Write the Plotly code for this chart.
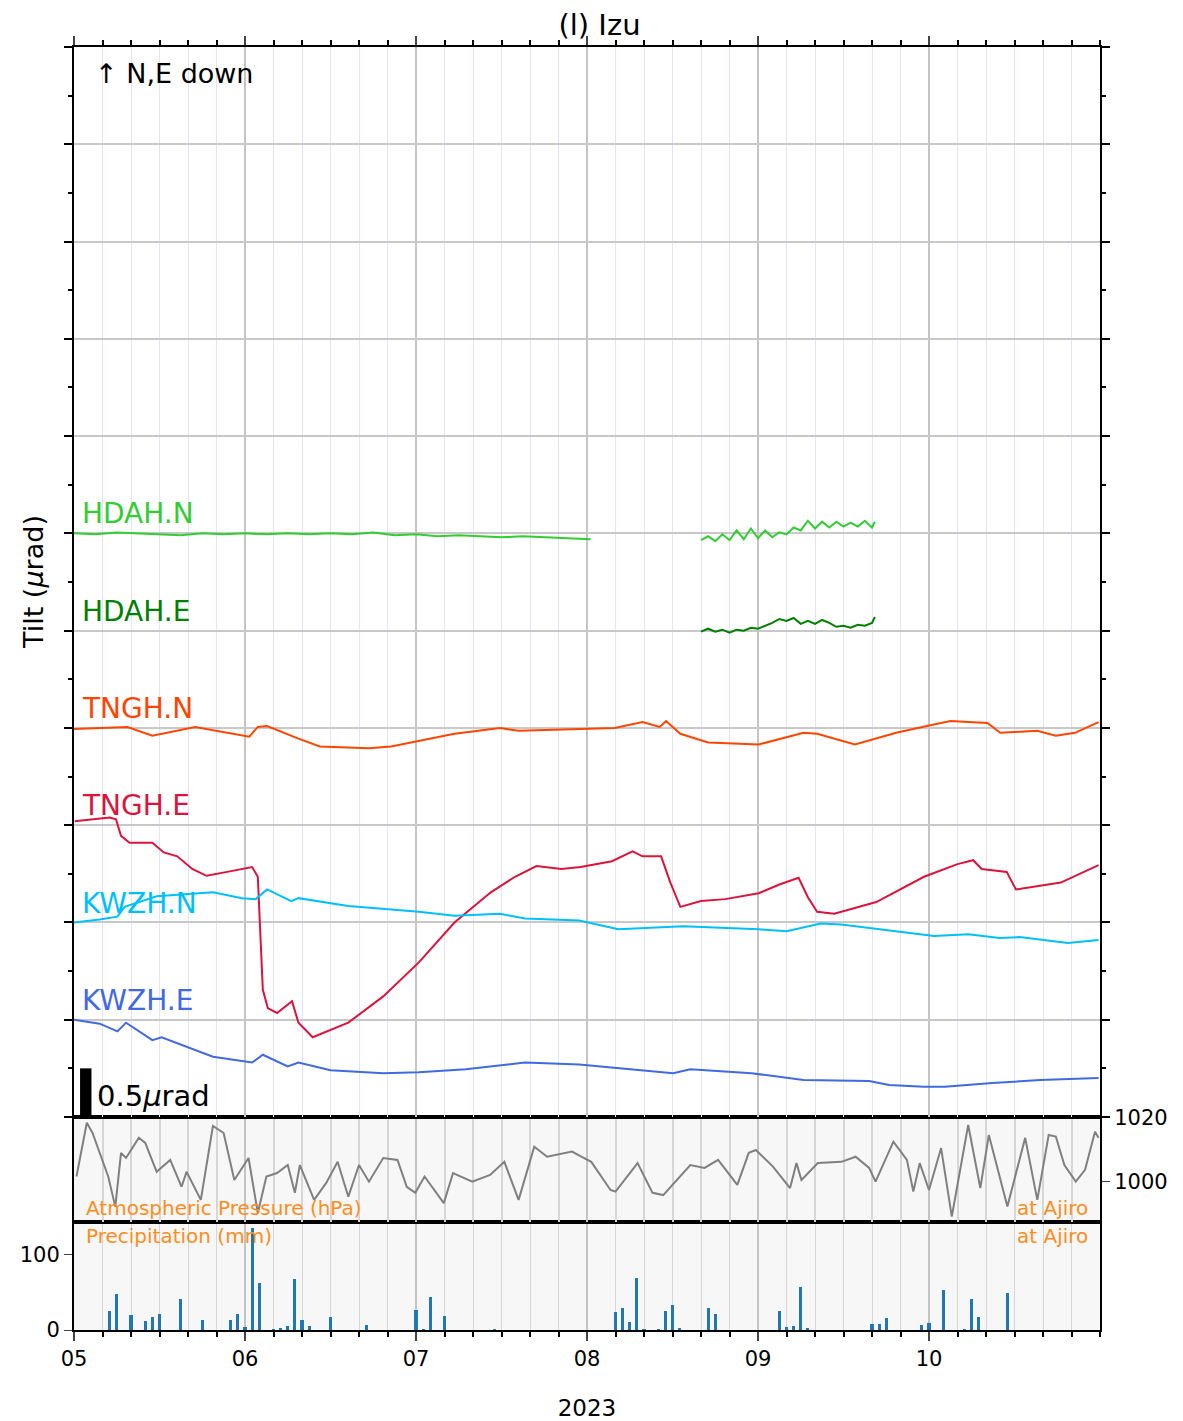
import pandas as pd
import plotly.graph_objects as go

T0 = pd.Timestamp("2023-05-05 00:00")

# tilt traces: hours since 05 00:00 and offset value (µrad, with station baseline)
hdah_n_h = [0, 3, 6, 9, 12, 15, 18, 21, 24, 27, 30, 33, 36, 39, 42, 45, 48, 51, 54, 57, 60, 63, 66, 69, 72, 72.5,
            None,
            88, 89, 90, 91, 92, 93, 94, 95, 96, 97, 98, 99, 100, 101, 102, 103, 104, 105, 106, 107, 108, 109,
            110, 111, 112, 112.4]
hdah_n_v = [6.00, 5.99, 6.01, 6.00, 5.99, 5.98, 6.00, 5.99, 6.00, 5.99, 6.00, 5.99, 6.00, 5.99, 6.01, 5.98,
            5.99, 5.97, 5.98, 5.97, 5.96, 5.97, 5.96, 5.95, 5.94, 5.94,
            None,
            5.93, 5.97, 5.92, 5.99, 5.93, 6.03, 5.94, 6.05, 5.95, 6.03, 5.96, 6.01, 5.99, 6.06, 6.03, 6.13,
            6.05, 6.12, 6.06, 6.12, 6.07, 6.11, 6.07, 6.13, 6.06, 6.12]

hdah_e_h = [88, 89, 90, 91, 92, 93, 94, 95, 96, 97, 98, 99, 100, 101, 102, 103, 104, 105, 106, 107, 108, 109,
            110, 111, 112, 112.4]
hdah_e_v = [4.99, 5.02, 4.99, 5.01, 4.98, 5.01, 5.00, 5.03, 5.02, 5.05, 5.08, 5.12, 5.10, 5.13, 5.07, 5.10,
            5.07, 5.11, 5.08, 5.04, 5.05, 5.03, 5.06, 5.05, 5.08, 5.14]

tngh_n_h = [0, 7.5, 11.0, 17.0, 24.6, 25.8, 27.1, 31.5, 34.5, 41.4, 44.5, 53.4, 59.8, 62.4, 71.1, 75.9, 79.8,
            82.2, 83.1, 85.1, 89.0, 96.1, 102.4, 104.3, 109.6, 115.4, 119.7, 123.0, 128.2, 130.0, 135.2,
            137.8, 140.5, 143.8]
tngh_n_v = [3.99, 4.01, 3.92, 4.01, 3.91, 4.01, 4.02, 3.89, 3.81, 3.79, 3.81, 3.94, 4.00, 3.97, 3.99, 4.00,
            4.06, 4.01, 4.07, 3.94, 3.85, 3.83, 3.95, 3.94, 3.83, 3.95, 4.02, 4.07, 4.05, 3.95, 3.97, 3.92,
            3.95, 4.06]

tngh_e_h = [0.1, 5.0, 5.9, 6.6, 7.8, 11.0, 12.6, 14.5, 16.6, 18.6, 21.5, 25.0, 25.8, 26.5, 27.2, 28.5, 30.6,
            31.5, 33.5, 38.5, 43.4, 48.4, 53.4, 58.5, 61.9, 64.9, 68.4, 71.1, 75.5, 78.4, 79.8, 82.4, 83.7,
            85.1, 88.0, 91.4, 96.1, 99.0, 101.7, 103.0, 104.3, 106.7, 112.6, 119.3, 124.0, 126.2, 127.4,
            130.9, 132.2, 138.5, 143.8]
tngh_e_v = [3.04, 3.08, 3.06, 2.89, 2.82, 2.82, 2.72, 2.68, 2.55, 2.48, 2.52, 2.57, 2.47, 1.31, 1.12, 1.07,
            1.19, 0.97, 0.82, 0.97, 1.24, 1.59, 2.00, 2.31, 2.47, 2.58, 2.55, 2.57, 2.63, 2.73, 2.68, 2.68,
            2.41, 2.16, 2.22, 2.24, 2.30, 2.39, 2.46, 2.26, 2.11, 2.09, 2.21, 2.47, 2.60, 2.64, 2.55, 2.52,
            2.34, 2.41, 2.59]

kwzh_n_h = [0, 3.6, 6.1, 7.1, 11.6, 19.5, 23.6, 25.5, 27.1, 30.5, 31.5, 38.5, 48.4, 53.4, 59.8, 63.3, 70.9,
            76.4, 85.5, 96.1, 100.0, 104.8, 107.7, 112.0, 115.9, 120.7, 125.5, 129.9, 132.7, 139.5, 143.8]
kwzh_n_v = [2.00, 2.03, 2.06, 2.16, 2.27, 2.31, 2.25, 2.24, 2.34, 2.22, 2.25, 2.17, 2.11, 2.07, 2.09, 2.04,
            2.02, 1.93, 1.96, 1.93, 1.91, 1.99, 1.98, 1.94, 1.91, 1.86, 1.88, 1.84, 1.85, 1.79, 1.82]

kwzh_e_h = [0, 3.6, 6.1, 7.3, 11.0, 12.3, 19.5, 25.0, 26.5, 30.0, 31.5, 36.0, 43.4, 48.4, 55.0, 63.3, 70.9,
            79.4, 84.1, 86.5, 95.1, 102.4, 111.6, 114.4, 119.3, 122.2, 128.9, 135.6, 143.8]
kwzh_e_v = [1.00, 0.96, 0.88, 0.97, 0.79, 0.82, 0.62, 0.56, 0.64, 0.52, 0.56, 0.48, 0.45, 0.46, 0.49, 0.56,
            0.54, 0.48, 0.45, 0.49, 0.45, 0.38, 0.37, 0.33, 0.31, 0.31, 0.35, 0.38, 0.40]

# atmospheric pressure at Ajiro (hPa)
pres_h = [0.35, 1.8, 2.6, 3.6, 4.8, 5.8, 6.6, 7.3, 9.1, 10.0, 11.6, 13.5, 15.1, 15.8, 17.8, 19.5, 21.0, 22.5,
          24.5, 25.8, 27.0, 28.5, 30.0, 31.0, 31.7, 33.7, 35.4, 37.0, 38.5, 40.0, 41.4, 43.4, 45.4, 46.7,
          47.9, 49.2, 51.9, 53.2, 55.9, 58.4, 60.4, 62.4, 64.6, 66.4, 69.9, 71.2, 72.6, 75.3, 76.0, 79.1,
          81.2, 82.7, 86.5, 88.5, 90.4, 93.1, 94.7, 95.7, 98.1, 100.5, 101.4, 102.1, 104.4, 107.7, 109.7,
          111.6, 112.5, 115.0, 116.9, 117.8, 118.7, 120.0, 121.7, 123.2, 125.5, 127.2, 128.4, 131.0, 133.5,
          135.2, 136.8, 137.8, 139.0, 140.6, 141.9, 143.3, 143.8]
pres_v = [1001.7, 1018.5, 1015.3, 1009.1, 1001.7, 992.3, 1009.1, 1007.5, 1013.8, 1012.2, 1003.2, 1006.9,
          998.5, 1003.2, 994.4, 1017.5, 1015.3, 1000.6, 1007.5, 990.3, 1001.7, 1002.8, 1005.3, 996.6, 1005.3,
          994.4, 999.7, 1006.3, 995.4, 1005.3, 1000.1, 1007.5, 1006.9, 998.5, 996.6, 1001.7, 993.4, 1002.8,
          1000.1, 1002.2, 1006.3, 994.4, 1011.0, 1007.9, 1009.5, 1007.9, 1006.3, 997.5, 997.0, 1005.9, 996.6,
          995.9, 1005.3, 1004.4, 1006.9, 999.1, 1009.1, 1010.0, 1004.8, 998.1, 1005.9, 1000.6, 1005.9, 1006.3,
          1007.9, 1004.4, 1000.1, 1012.6, 1006.9, 997.0, 1005.9, 997.5, 1010.6, 989.2, 1017.8, 998.1, 1014.7,
          992.3, 1013.8, 994.4, 1014.7, 1014.2, 1005.3, 1000.1, 1003.8, 1015.7, 1013.8]

# precipitation at Ajiro
prec_h = [5, 6, 8, 10, 11, 12, 15, 18, 22, 23, 24, 25, 26, 28, 29, 30, 31, 32, 33, 36, 41, 48, 49, 50, 52, 59,
          76, 77, 78, 79, 80, 82, 83, 84, 85, 89, 90, 99, 100, 101, 102, 103, 112, 113, 114, 119, 120, 122,
          125, 126, 127, 131]
prec_v = [26, 48, 20, 12, 18, 22, 41, 14, 14, 22, 4, 136, 63, 2, 3, 5, 68, 14, 6, 18, 7, 27, 2, 44, 19, 1,
          24, 30, 11, 70, 1, 2, 26, 33, 3, 29, 22, 26, 4, 5, 57, 3, 8, 8, 16, 7, 10, 53, 1, 41, 17, 50]

day_ticks = ["05", "06", "07", "08", "09", "10"]

stations = [
    ("HDAH.N", hdah_n_h, hdah_n_v, "#32CD32", 6),
    ("HDAH.E", hdah_e_h, hdah_e_v, "#008000", 5),
    ("TNGH.N", tngh_n_h, tngh_n_v, "#FF4500", 4),
    ("TNGH.E", tngh_e_h, tngh_e_v, "#DC143C", 3),
    ("KWZH.N", kwzh_n_h, kwzh_n_v, "#00BFFF", 2),
    ("KWZH.E", kwzh_e_h, kwzh_e_v, "#4169E1", 1),
]


def to_time(hours):
    return [None if h is None else T0 + pd.Timedelta(hours=h) for h in hours]


ORANGE = "#FF8C1A"
fig = go.Figure()

for name, hh, vv, color, base in stations:
    fig.add_trace(go.Scatter(x=to_time(hh), y=vv, mode="lines", name=name,
                             line=dict(color=color, width=2), connectgaps=False,
                             xaxis="x3", yaxis="y3"))
    fig.add_annotation(x=T0 + pd.Timedelta(hours=0.8), y=base + 0.2, xref="x3", yref="y3",
                       text=name, showarrow=False, xanchor="left", yanchor="middle",
                       font=dict(size=28, color=color))

fig.add_trace(go.Scatter(x=to_time(pres_h), y=pres_v, mode="lines",
                         line=dict(color="#808080", width=2), xaxis="x2", yaxis="y2"))
fig.add_trace(go.Bar(x=to_time(prec_h), y=prec_v, width=0.45 * 3600000,
                     marker=dict(color="#1f77b4", line=dict(width=0)), xaxis="x", yaxis="y"))

x_range = [T0, T0 + pd.Timedelta(hours=144)]
tickvals = [T0 + pd.Timedelta(days=i) for i in range(len(day_ticks))]
minor = dict(dtick=4 * 3600000, ticks="outside", ticklen=5, tickcolor="black", showgrid=True,
             gridcolor="#d6d6d6", gridwidth=1)
common_x = dict(type="date", range=x_range, tickvals=tickvals, showline=True, linecolor="black",
                linewidth=2, mirror=True, showgrid=True, gridcolor="#c4c4c4", gridwidth=1.5, zeroline=False)

fig.update_layout(
    width=1183, height=1421,
    margin=dict(l=62, r=91, t=39, b=94),
    plot_bgcolor="white", paper_bgcolor="white",
    showlegend=False, bargap=0,
    font=dict(family="DejaVu Sans", color="black"),
    title=dict(text="(l) Izu", x=0.5, xanchor="center", y=0.988, yanchor="middle",
               font=dict(size=29, color="black")),
    xaxis=dict(common_x, domain=[0, 1], anchor="y", ticktext=day_ticks, ticks="outside", ticklen=9,
               tickwidth=1.5, tickfont=dict(size=21), minor=minor,
               title=dict(text="2023", font=dict(size=23), standoff=30)),
    xaxis2=dict(common_x, matches="x", anchor="y2", showticklabels=False, ticks="", minor=dict(
        dtick=4 * 3600000, showgrid=True, gridcolor="#d6d6d6")),
    xaxis3=dict(common_x, matches="x", anchor="y3", side="top", showticklabels=False, ticks="outside",
                ticklen=9, tickwidth=1.5,
                minor=dict(dtick=4 * 3600000, ticks="outside", ticklen=5, tickcolor="black",
                           showgrid=True, gridcolor="#e4e4f8", gridwidth=1)),
    yaxis=dict(domain=[0, 0.0842], range=[0, 144], tickvals=[0, 100], ticks="outside", ticklen=8,
               tickfont=dict(size=21), showline=True, linecolor="black", linewidth=2, mirror=True,
               showgrid=False, zeroline=False),
    yaxis2=dict(domain=[0.0842, 0.166], range=[987.5, 1020.3], tickvals=[1000, 1020], side="right",
                anchor="x2", ticks="outside", ticklen=8, tickfont=dict(size=21), showline=True,
                linecolor="black", linewidth=2, mirror=True, showgrid=False, zeroline=False),
    yaxis3=dict(domain=[0.166, 1], range=[0, 11], dtick=1, anchor="x3", showticklabels=False,
                ticks="outside", ticklen=8, tickwidth=1.5, tickcolor="black", showline=True,
                linecolor="black", linewidth=2, mirror="ticks", showgrid=True, gridcolor="#c8c8c8",
                gridwidth=1.5, zeroline=False,
                minor=dict(dtick=0.5, ticks="outside", ticklen=4, tickcolor="black", showgrid=False)),
)

for yr in ["y domain", "y2 domain"]:
    fig.add_shape(type="rect", xref="x domain", yref=yr, x0=0, x1=1, y0=0, y1=1,
                  fillcolor="#f7f7f7", line=dict(width=0), layer="below")

# scale bar
fig.add_shape(type="rect", xref="x3", yref="y3", x0=T0 + pd.Timedelta(hours=0.85),
              x1=T0 + pd.Timedelta(hours=2.45), y0=0.02, y1=0.5, fillcolor="black", line=dict(width=0))
fig.add_annotation(x=T0 + pd.Timedelta(hours=3.0), y=0.22, xref="x3", yref="y3", text="0.5<i>µ</i>rad",
                   showarrow=False, xanchor="left", yanchor="middle", font=dict(size=29))
fig.add_annotation(x=T0 + pd.Timedelta(hours=2.6), y=10.73, xref="x3", yref="y3", text="↑ N,E down",
                   showarrow=False, xanchor="left", yanchor="middle", font=dict(size=27))
fig.add_annotation(x=-0.04, y=0.583, xref="paper", yref="paper", text="Tilt (<i>µ</i>rad)", textangle=-90,
                   showarrow=False, xanchor="center", yanchor="middle", font=dict(size=27))

fig.add_annotation(x=0.01, y=0.0, xref="paper", yref="y2 domain", text="Atmospheric Pressure (hPa)",
                   showarrow=False, xanchor="left", yanchor="bottom", font=dict(size=20, color=ORANGE))
fig.add_annotation(x=0.99, y=0.0, xref="paper", yref="y2 domain", text="at Ajiro",
                   showarrow=False, xanchor="right", yanchor="bottom", font=dict(size=20, color=ORANGE))
fig.add_annotation(x=0.01, y=1.0, xref="paper", yref="y domain", text="Precipitation (mm)",
                   showarrow=False, xanchor="left", yanchor="top", font=dict(size=20, color=ORANGE))
fig.add_annotation(x=0.99, y=1.0, xref="paper", yref="y domain", text="at Ajiro",
                   showarrow=False, xanchor="right", yanchor="top", font=dict(size=20, color=ORANGE))

fig.write_html("out.html")
